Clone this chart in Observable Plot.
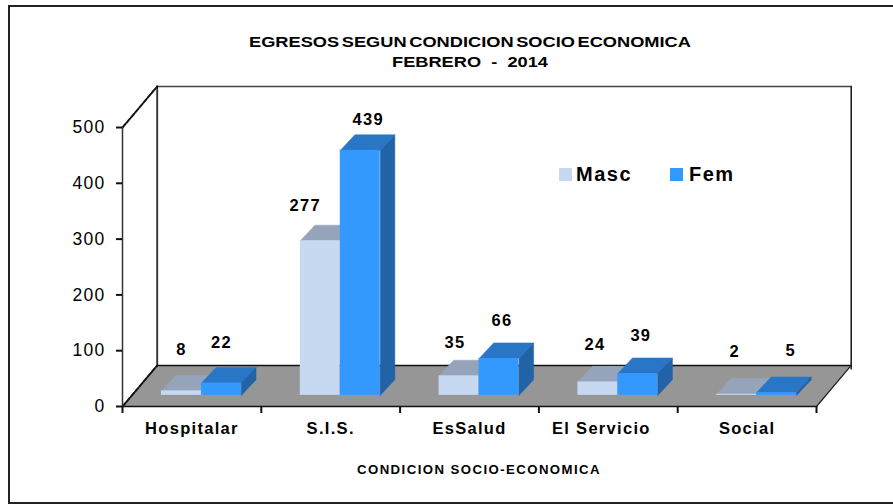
<!DOCTYPE html>
<html><head><meta charset="utf-8">
<script src="https://cdn.jsdelivr.net/npm/d3@7"></script>
<script src="https://cdn.jsdelivr.net/npm/@observablehq/plot@0.6"></script>
<style>
html,body{margin:0;background:#fff;}
#page{position:relative;width:893px;height:504px;overflow:hidden;font-family:"Liberation Sans",Arial,sans-serif;color:#000;}
#frame{position:absolute;left:8px;top:5px;right:-4px;bottom:0;border:2px solid #222;border-right:0;box-sizing:border-box;}
#chart{position:absolute;left:0;top:0;}
.t{position:absolute;font-weight:bold;white-space:pre;}
#title{left:170px;width:600px;top:32px;text-align:center;font-size:15px;line-height:20px;transform:scaleX(1.215);}
#title span{word-spacing:-2px;}
#xtitle{left:279px;width:400px;top:463px;text-align:center;font-size:12px;letter-spacing:1.3px;transform:scaleX(1.1);}
.sw{position:absolute;width:13px;height:13px;top:168px;}
.lg{top:163px;font-size:20px;letter-spacing:1.5px;}
</style></head><body>
<div id="page">
<div id="frame"></div>
<div id="chart"></div>
<div class="t" id="title"><span>EGRESOS SEGUN CONDICION SOCIO ECONOMICA</span>
FEBRERO  -  2014</div>
<div class="t" id="xtitle">CONDICION SOCIO-ECONOMICA</div>
<div class="sw" style="left:559px;background:#C6D9F1"></div><div class="t lg" style="left:576px">Masc</div>
<div class="sw" style="left:670px;background:#3399FF"></div><div class="t lg" style="left:689px">Fem</div>
</div>
<script>
const categories = ["Hospitalar", "S.I.S.", "EsSalud", "El Servicio", "Social"];
const masc = [8, 277, 35, 24, 2];
const fem = [22, 439, 66, 39, 5];
const valueTicks = [0, 100, 200, 300, 400, 500];

// Layout of the pseudo-3D projection, in chart units
const wallDepthX = 0.25, wallDepthY = 73.5;
const barDepthX = 0.105, barDepthY = 28;
const barBase = 20;
const barStart = 0.281, barWidth = 0.288;
const wallTop = 500 + wallDepthY;
const pxX = 694 / 5, pxY = 279 / 500;
const categoryLabelShift = [0, 0, 0, -0.05, 0];

// Hand-placed data label shifts from the bar's front-top centre, in pixels
const mascShiftX = [0, -15, -4, -3, -2], mascShiftY = [41, 35, 33, 37, 43];
const femShiftX = [0, 8, 3, 3, 14], femShiftY = [40, 31, 38, 38, 42];

const series = [
  {values: masc, offset: 0, front: "#C6D9F1", top: "#95A4BA", side: "#95A4BA", sx: mascShiftX, sy: mascShiftY},
  {values: fem, offset: 1, front: "#3399FF", top: "#2A76C6", side: "#2163A6", sx: femShiftX, sy: femShiftY}
];

const poly = (pts, fill) => Plot.line(pts.map(([x, y]) => ({x, y})), {x: "x", y: "y", fill, stroke: fill, strokeWidth: 0.5});
const rule = (pts, o) => Plot.line(pts.map(([x, y]) => ({x, y})), {x: "x", y: "y", ...o});

const barMarks = [], labels = [];
series.forEach(s => {
  s.values.forEach((v, i) => {
    const x0 = i + barStart + s.offset * barWidth, x1 = x0 + barWidth;
    const y0 = barBase, y1 = barBase + v;
    barMarks.push(
      poly([[x0, y1], [x1, y1], [x1 + barDepthX, y1 + barDepthY], [x0 + barDepthX, y1 + barDepthY], [x0, y1]], s.top),
      poly([[x1, y0], [x1 + barDepthX, y0 + barDepthY], [x1 + barDepthX, y1 + barDepthY], [x1, y1], [x1, y0]], s.side),
      Plot.rect([{x0, x1, y0, y1}], {x1: "x0", x2: "x1", y1: "y0", y2: "y1", fill: s.front})
    );
    labels.push({text: String(v), x: (x0 + x1) / 2 + s.sx[i] / pxX, y: y1 + s.sy[i] / pxY});
  });
});

const chart = Plot.plot({
  width: 893, height: 504,
  marginLeft: 122, marginRight: 77, marginTop: 127, marginBottom: 98,
  style: {background: "transparent", overflow: "visible", fontFamily: "'Liberation Sans', Arial, sans-serif", letterSpacing: "1.3px"},
  x: {domain: [0, 5], axis: null},
  y: {domain: [0, 500], axis: null},
  marks: [
    poly([[0, 0], [5, 0], [5 + wallDepthX, wallDepthY], [wallDepthX, wallDepthY], [0, 0]], "#969696"),
    rule([[wallDepthX, wallTop], [5 + wallDepthX, wallTop]], {stroke: "#444", strokeWidth: 1.5}),
    rule([[5 + wallDepthX, wallTop], [5 + wallDepthX, wallDepthY - 6]], {stroke: "#222", strokeWidth: 1.6}),
    rule([[wallDepthX, wallTop], [wallDepthX, wallDepthY]], {stroke: "#333", strokeWidth: 2, strokeDasharray: "1,1"}),
    rule([[wallDepthX, wallDepthY], [5 + wallDepthX, wallDepthY]], {stroke: "#111", strokeWidth: 1.5}),
    rule([[0, 0], [5, 0]], {stroke: "#111", strokeWidth: 1.5}),
    rule([[0, 0], [wallDepthX, wallDepthY]], {stroke: "#111", strokeWidth: 2, strokeDasharray: "5,1.5"}),
    rule([[5, 0], [5 + wallDepthX, wallDepthY]], {stroke: "#222", strokeWidth: 1.2}),
    rule([[0, 500], [wallDepthX, wallTop]], {stroke: "#111", strokeWidth: 2, strokeDasharray: "5,1.5"}),
    rule([[0, 0], [0, 500]], {stroke: "#333", strokeWidth: 1.5}),
    Plot.axisY({ticks: valueTicks, tickSize: 6, tickPadding: 11, fontSize: 17.5, fontWeight: 400, stroke: "#111", strokeWidth: 2, label: null, tickFormat: d => d, fill: "#000"}),
    Plot.axisX({ticks: d3.range(6), tickSize: 7, tickFormat: () => "", strokeWidth: 2, stroke: "#111", label: null}),
    Plot.axisX({ticks: categories.map((c, i) => i + 0.5 + categoryLabelShift[i]), tickSize: 0, tickPadding: 16, fontSize: 16.5, fontWeight: 700, tickFormat: d => categories[Math.floor(d)], label: null, fill: "#000"}),
    ...barMarks,
    Plot.text(labels, {x: "x", y: "y", text: "text", fontSize: 16.5, fontWeight: 700, fill: "#000", textAnchor: "middle"})
  ]
});
document.getElementById("chart").appendChild(chart);
</script>
</body></html>
